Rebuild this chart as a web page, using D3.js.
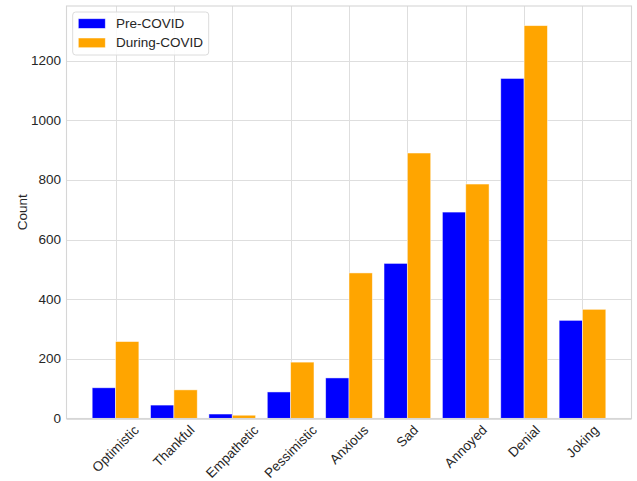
<!DOCTYPE html>
<html>
<head>
<meta charset="utf-8">
<script src="https://cdn.jsdelivr.net/npm/d3@7/dist/d3.min.js"></script>
<style>
  html, body { margin: 0; padding: 0; background: #fff; }
  svg { display: block; }
  text { font-family: "Liberation Sans", Arial, sans-serif; fill: #262626; }
</style>
</head>
<body>
<svg id="chart" width="637" height="481"></svg>
<script>
const categories = ["Optimistic", "Thankful", "Empathetic", "Pessimistic", "Anxious", "Sad", "Annoyed", "Denial", "Joking"];
const preCovid = [103, 45, 15, 89, 136, 520, 692, 1140, 329];
const duringCovid = [258, 96, 11, 189, 488, 890, 786, 1317, 366];
const seriesNames = ["Pre-COVID", "During-COVID"];
const seriesColors = ["#0000ff", "#ffa500"];
const yTicks = [0, 200, 400, 600, 800, 1000, 1200];

(function () {
const pL = 66.5, pR = 631.5, pT = 6, pB = 418.5;
const svg = d3.select("#chart");
const fs = 13.5;

const n = categories.length;
const barW = 0.4;
const span = (n - 1) + 2 * barW;
const pad = 0.05 * span;
const x = d3.scaleLinear().domain([-barW - pad, (n - 1) + barW + pad]).range([pL, pR]);
const yMax = 1.05 * d3.max(duringCovid.concat(preCovid));
const y = d3.scaleLinear().domain([0, yMax]).range([pB, pT]);

const gridColor = "#dedede";

const grid = svg.append("g");
grid.selectAll("line.h").data(yTicks).join("line")
  .attr("x1", pL).attr("x2", pR)
  .attr("y1", d => Math.round(y(d)) + 0.5).attr("y2", d => Math.round(y(d)) + 0.5)
  .attr("stroke", gridColor).attr("stroke-width", 1);
grid.selectAll("line.v").data(categories).join("line")
  .attr("y1", pT).attr("y2", pB)
  .attr("x1", (d, i) => Math.round(x(i)) + 0.5).attr("x2", (d, i) => Math.round(x(i)) + 0.5)
  .attr("stroke", gridColor).attr("stroke-width", 1);

const series = [preCovid, duringCovid];
series.forEach((vals, s) => {
  svg.append("g").selectAll("rect").data(vals).join("rect")
    .attr("x", (d, i) => x(i + (s === 0 ? -barW : 0)))
    .attr("width", x(barW) - x(0))
    .attr("y", d => y(d))
    .attr("height", d => y(0) - y(d))
    .attr("fill", seriesColors[s])
    .attr("stroke", "#ffffff").attr("stroke-width", 0.8).attr("stroke-opacity", 0.6);
});

svg.append("rect")
  .attr("x", pL).attr("y", pT).attr("width", pR - pL).attr("height", pB - pT)
  .attr("fill", "none").attr("stroke", "#d6d6d6").attr("stroke-width", 1.1);

svg.append("g").selectAll("text").data(yTicks).join("text")
  .attr("x", pL - 5.5).attr("y", d => y(d))
  .attr("text-anchor", "end").attr("dominant-baseline", "central")
  .style("font-size", fs + "px")
  .text(d => d);

const labels = svg.append("g").selectAll("text").data(categories).join("text")
  .style("font-size", fs + "px")
  .attr("text-anchor", "middle").attr("dominant-baseline", "central")
  .text(d => d);
labels.each(function(d, i) {
  const L = this.getComputedTextLength();
  const h = fs * 0.8;
  const half = (L + h) / (2 * Math.SQRT2);
  const cx = x(i), cy = pB + 5.5 + half;
  d3.select(this).attr("transform", `translate(${cx},${cy}) rotate(-45)`);
});

svg.append("text")
  .attr("transform", `translate(22,${(pT + pB) / 2}) rotate(-90)`)
  .attr("text-anchor", "middle").attr("dominant-baseline", "central")
  .style("font-size", fs + "px")
  .text("Count");

const lg = svg.append("g");
lg.append("rect").attr("x", 72.7).attr("y", 12).attr("width", 136).attr("height", 43)
  .attr("rx", 3).attr("fill", "#ffffff").attr("fill-opacity", 0.85)
  .attr("stroke", "#dcdcdc").attr("stroke-width", 1);
seriesNames.forEach((name, i) => {
  const yy = 18.7 + i * 19.3;
  lg.append("rect").attr("x", 78.3).attr("y", yy).attr("width", 27).attr("height", 9.7)
    .attr("fill", seriesColors[i]).attr("stroke", "#ffffff").attr("stroke-width", 0.8).attr("stroke-opacity", 0.6);
  lg.append("text").attr("x", 116).attr("y", yy + 4.9)
    .attr("dominant-baseline", "central").style("font-size", fs + "px").text(name);
});
})();
</script>
</body>
</html>
